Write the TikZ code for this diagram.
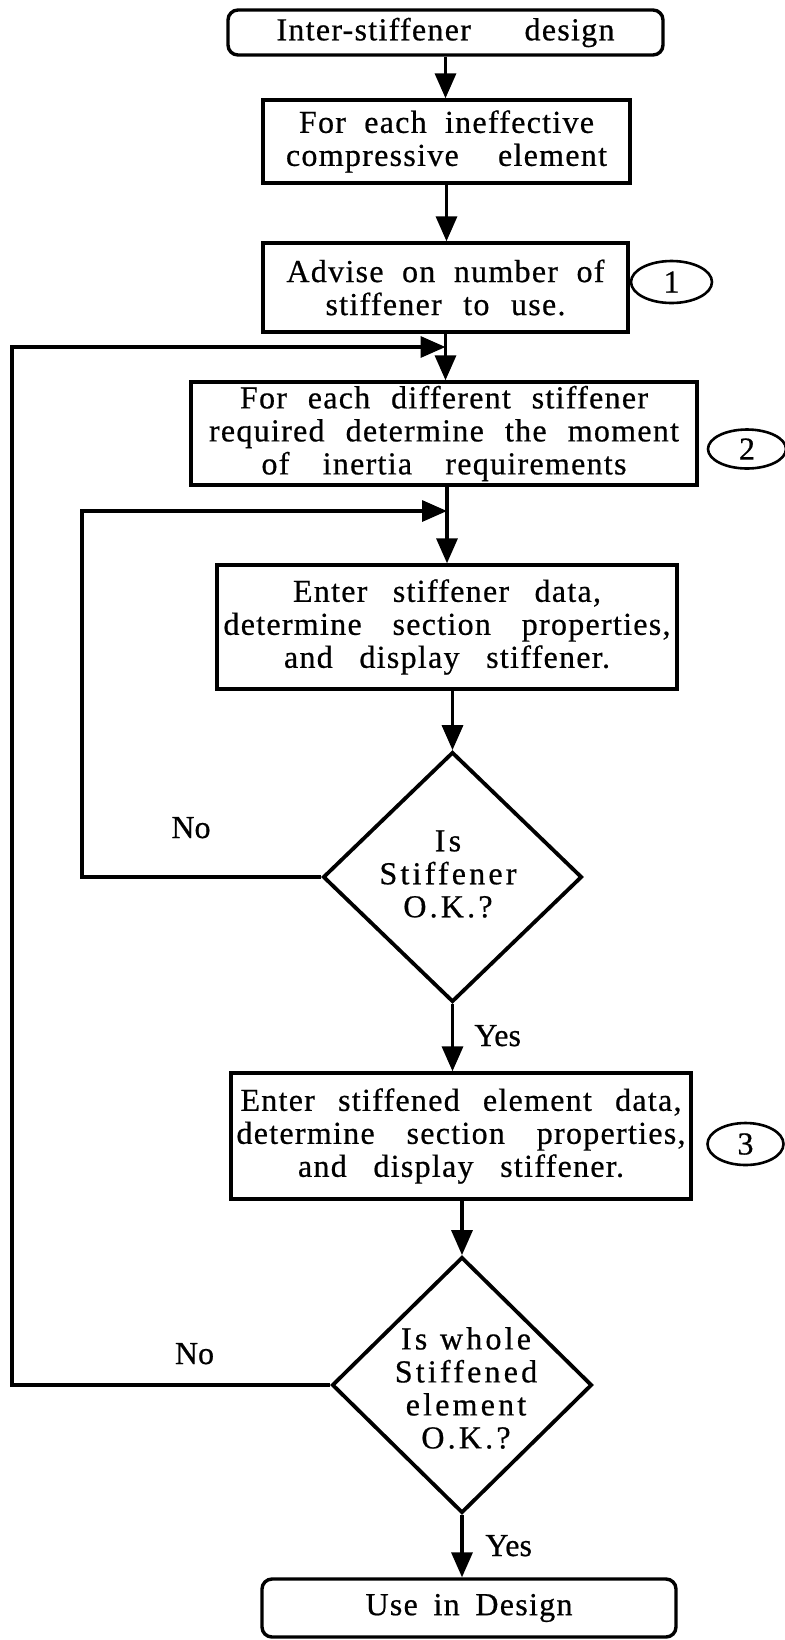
\documentclass[tikz,border=0pt]{standalone}
\usepackage{fontspec}
\setmainfont{Liberation Serif}[LetterSpace=4,Ligatures=NoCommon,FakeBold=0.6]
\newfontfamily\dfont{Liberation Serif}[LetterSpace=10,Ligatures=NoCommon,FakeBold=0.6]
\newfontfamily\pfont{Liberation Serif}[FakeBold=0.6]
\usetikzlibrary{shapes.geometric,arrows.meta}
\newcommand\sline[2]{\makebox[#1][s]{#2}}
\tikzset{
  box/.style={draw,line width=1.7pt,inner sep=0pt,align=center,font=\fontsize{16}{16.5}\selectfont},
  rbox/.style={box,rounded corners=5pt},
  dia/.style={draw,diamond,line width=1.9pt,inner sep=0pt},
  dtext/.style={align=center,inner sep=0pt,font=\dfont\fontsize{16}{16.5}\selectfont},
  num/.style={draw,ellipse,line width=1.3pt,inner sep=0pt,font=\pfont\fontsize{16}{16.5}\selectfont},
  lab/.style={inner sep=0pt,anchor=base,font=\pfont\fontsize{16}{16.5}\selectfont},
  conn/.style={line width=1.7pt},
  arr/.style={conn,-{Triangle[length=12.5pt,width=10.5pt]}},
}
\begin{document}
\begin{tikzpicture}[x=0.5pt,y=-0.5pt]
\fill[white] (0,0) rectangle (784,1640);
\useasboundingbox (0,0) rectangle (784,1640);

\node[rbox,minimum width=217.5pt,minimum height=22.5pt] (top) at (445.5,32.5)
  {\sline{169pt}{Inter-stiffener design}};
\node[box,minimum width=183.5pt,minimum height=41.5pt] (b2) at (446.5,141.5)
  {\sline{147.5pt}{For each ineffective}\\\sline{160.5pt}{compressive element}};
\node[box,minimum width=182.5pt,minimum height=44.5pt] (b3) at (445.5,287.5)
  {\sline{159pt}{Advise on number of}\\\sline{120pt}{stiffener to use.}};
\node[box,minimum width=253pt,minimum height=51.5pt] (b4) at (444,433.5)
  {\sline{204pt}{For each different stiffener}\\\sline{235pt}{required determine the moment}\\\sline{182.5pt}{of inertia requirements}};
\node[box,minimum width=230pt,minimum height=62pt] (b5) at (447,627)
  {\sline{154pt}{Enter stiffener data,}\\\sline{223.5pt}{determine section properties,}\\\sline{163pt}{and display stiffener.}};
\node[dia,minimum width=129.5pt,minimum height=125pt] (d1) at (452.5,877) {};
\node[dtext] (d1t) at (448,874) {Is\\Stiffener\\O.K.?};
\node[box,minimum width=230pt,minimum height=63pt] (b6) at (461,1136)
  {\sline{220.5pt}{Enter stiffened element data,}\\\sline{224.5pt}{determine section properties,}\\\sline{163pt}{and display stiffener.}};
\node[dia,minimum width=130pt,minimum height=128pt] (d2) at (462,1385) {};
\node[dtext] (d2t) at (466,1388) {\sline{65pt}{Is whole}\\Stiffened\\element\\O.K.?};
\node[rbox,minimum width=207pt,minimum height=29pt] (fin) at (469,1608)
  {\sline{103.5pt}{Use in Design}};

\node[num,minimum width=40.5pt,minimum height=21pt] (c1) at (671.5,282) {1};
\node[num,minimum width=39pt,minimum height=19.5pt] (c2) at (747,449) {2};
\node[num,minimum width=38pt,minimum height=21pt] (c3) at (745.5,1144) {3};

\node[lab] (no1) at (191,838) {No};
\node[lab] (no2) at (194.5,1364) {No};
\node[lab,anchor=base west] (yes1) at (474,1046) {Yes};
\node[lab,anchor=base west] (yes2) at (485,1556) {Yes};

\coordinate (j1) at (445.5,347);
\coordinate (j2) at (447,511);
\coordinate (oL) at (12,0);
\coordinate (iL) at (82,0);

\draw[arr] (top.south) -- (top.south |- b2.north);
\draw[arr] (b2.south) -- (b2.south |- b3.north);
\draw[arr] (b3.south) -- (b3.south |- b4.north);
\draw[arr] (b5.north |- b4.south) -- (b5.north);
\draw[arr] (d1.north |- b5.south) -- (d1.north);
\draw[arr] (d1.south) -- (d1.south |- b6.north);
\draw[arr] (d2.north |- b6.south) -- (d2.north);
\draw[arr] (d2.south) -- (d2.south |- fin.north);
\draw[arr] (d1.west) -- (d1.west -| iL) |- (j2);
\draw[arr] (d2.west) -- (d2.west -| oL) |- (j1);
\end{tikzpicture}
\end{document}
